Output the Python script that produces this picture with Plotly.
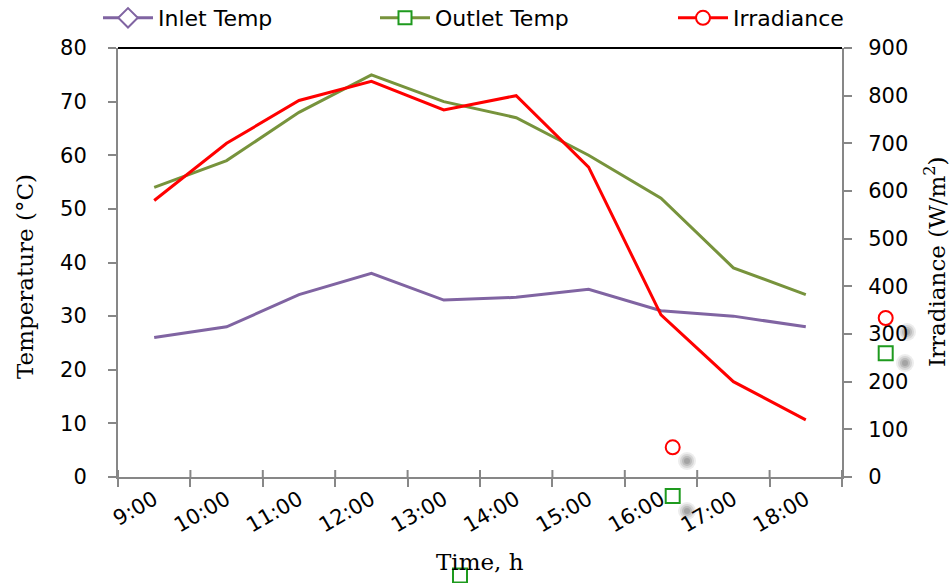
import plotly.graph_objects as go

# Hourly readings of the collector test
times = ["9:00", "10:00", "11:00", "12:00", "13:00", "14:00", "15:00", "16:00", "17:00", "18:00"]
inlet_temp = [26, 28, 34, 38, 33, 33.5, 35, 31, 30, 28]
outlet_temp = [54, 59, 68, 75, 70, 67, 60, 52, 39, 34]
irradiance = [580, 700, 790, 830, 770, 800, 650, 340, 200, 120]

temp_ticks = list(range(0, 90, 10))
irr_ticks = list(range(0, 1000, 100))

INLET_COLOR = "#8064A2"
OUTLET_COLOR = "#77933C"
IRR_COLOR = "#FF0000"
AXIS_COLOR = "#878787"
MARKER_GREEN = "#1E9A1E"

W, H = 950, 583
L, R, T, B = 118, 108, 48, 106
PW, PH = W - L - R, H - T - B


def px(xp):
    return (xp - L) / PW


def py(yp):
    return (H - B - yp) / PH


tick_font = dict(family="DejaVu Sans", size=21, color="black")
title_font = dict(family="DejaVu Serif", size=23, color="black")

fig = go.Figure()

fig.add_trace(go.Scatter(x=times, y=inlet_temp, mode="lines", name="Inlet Temp",
                         line=dict(color=INLET_COLOR, width=3), showlegend=False))
fig.add_trace(go.Scatter(x=times, y=outlet_temp, mode="lines", name="Outlet Temp",
                         line=dict(color=OUTLET_COLOR, width=3), showlegend=False))
fig.add_trace(go.Scatter(x=times, y=irradiance, mode="lines", name="Irradiance",
                         line=dict(color=IRR_COLOR, width=3), showlegend=False, yaxis="y2"))

# legend keys: line with a hollow marker on it
legend_keys = [
    ("Inlet Temp", INLET_COLOR, INLET_COLOR, "diamond", 15, "legend"),
    ("Outlet Temp", OUTLET_COLOR, MARKER_GREEN, "square", 13, "legend2"),
    ("Irradiance", IRR_COLOR, IRR_COLOR, "circle", 14, "legend3"),
]
for name, lc, mc, sym, size, lg in legend_keys:
    fig.add_trace(go.Scatter(
        x=[None], y=[None], mode="lines+markers", name=name, legend=lg,
        line=dict(color=lc, width=3),
        marker=dict(symbol=sym, size=size, color="white", line=dict(color=mc, width=2)),
    ))

legend_common = dict(orientation="h", yanchor="middle", xanchor="left", y=py(18),
                     font=dict(family="DejaVu Sans", size=22, color="black"),
                     itemwidth=50, bgcolor="rgba(0,0,0,0)", borderwidth=0)

axis_common = dict(showline=True, linecolor=AXIS_COLOR, linewidth=2, showgrid=False,
                   zeroline=False, ticks="outside", ticklen=8, tickwidth=2,
                   tickcolor=AXIS_COLOR, tickfont=tick_font)

# loose marker glyphs with soft grey shadows around the frame
shapes = []


def shadow(cx, cy):
    for r, a in [(9, 0.12), (7, 0.18), (5, 0.25), (3, 0.3)]:
        shapes.append(dict(type="circle", xref="paper", yref="paper",
                           x0=px(cx - r), x1=px(cx + r), y0=py(cy + r), y1=py(cy - r),
                           fillcolor=f"rgba(110,110,110,{a})", line=dict(width=0),
                           layer="below"))


def ring(cx, cy, r, color):
    shapes.append(dict(type="circle", xref="paper", yref="paper",
                       x0=px(cx - r), x1=px(cx + r), y0=py(cy + r), y1=py(cy - r),
                       line=dict(color=color, width=2), fillcolor="rgba(0,0,0,0)"))


def box(cx, cy, r, color):
    shapes.append(dict(type="rect", xref="paper", yref="paper",
                       x0=px(cx - r), x1=px(cx + r), y0=py(cy + r), y1=py(cy - r),
                       line=dict(color=color, width=2), fillcolor="rgba(0,0,0,0)"))


shadow(687, 461)
shadow(687, 511)
shadow(907, 332)
shadow(905, 363)
ring(672.7, 447.3, 7, IRR_COLOR)
box(672.7, 496, 7, MARKER_GREEN)
ring(885.7, 318, 7, IRR_COLOR)
box(885.7, 353.3, 7, MARKER_GREEN)
box(460, 575.5, 7, MARKER_GREEN)

# black rule along the top of the plotting area
shapes.append(dict(type="line", xref="paper", yref="paper", x0=0, x1=1, y0=1, y1=1,
                   line=dict(color="black", width=2)))

# inner half of the crossing tick marks at the category boundaries
for i in range(len(times) + 1):
    shapes.append(dict(type="line", xref="x", yref="paper", x0=i - 0.5, x1=i - 0.5,
                       y0=0, y1=7 / PH, line=dict(color=AXIS_COLOR, width=2)))

fig.update_layout(
    width=W, height=H,
    margin=dict(l=L, r=R, t=T, b=B, pad=0, autoexpand=False),
    paper_bgcolor="white", plot_bgcolor="white",
    xaxis=dict(type="category", range=[-0.5, 9.5], tickson="boundaries",
               tickangle=-30, ticklabelstandoff=0, **axis_common),
    yaxis=dict(range=[0, 80], tickvals=temp_ticks, ticklabelstandoff=17, **axis_common),
    yaxis2=dict(range=[0, 900], tickvals=irr_ticks, overlaying="y", side="right",
                ticklabelstandoff=12, **axis_common),
    legend=dict(x=px(98), **legend_common),
    legend2=dict(x=px(375), **legend_common),
    legend3=dict(x=px(673), **legend_common),
    shapes=shapes,
    annotations=[
        dict(text="Temperature (°C)", xref="paper", yref="paper", x=px(25), y=py(277),
             textangle=-90, showarrow=False, font=title_font, xanchor="center", yanchor="middle"),
        dict(text="Irradiance (W/m<sup>2</sup>)", xref="paper", yref="paper", x=px(935),
             y=py(262), textangle=-90, showarrow=False, font=title_font,
             xanchor="center", yanchor="middle"),
        dict(text="Time, h", xref="paper", yref="paper", x=0.5, y=py(562),
             showarrow=False, font=title_font, xanchor="center", yanchor="middle"),
    ],
)

fig.write_html("out.html")
